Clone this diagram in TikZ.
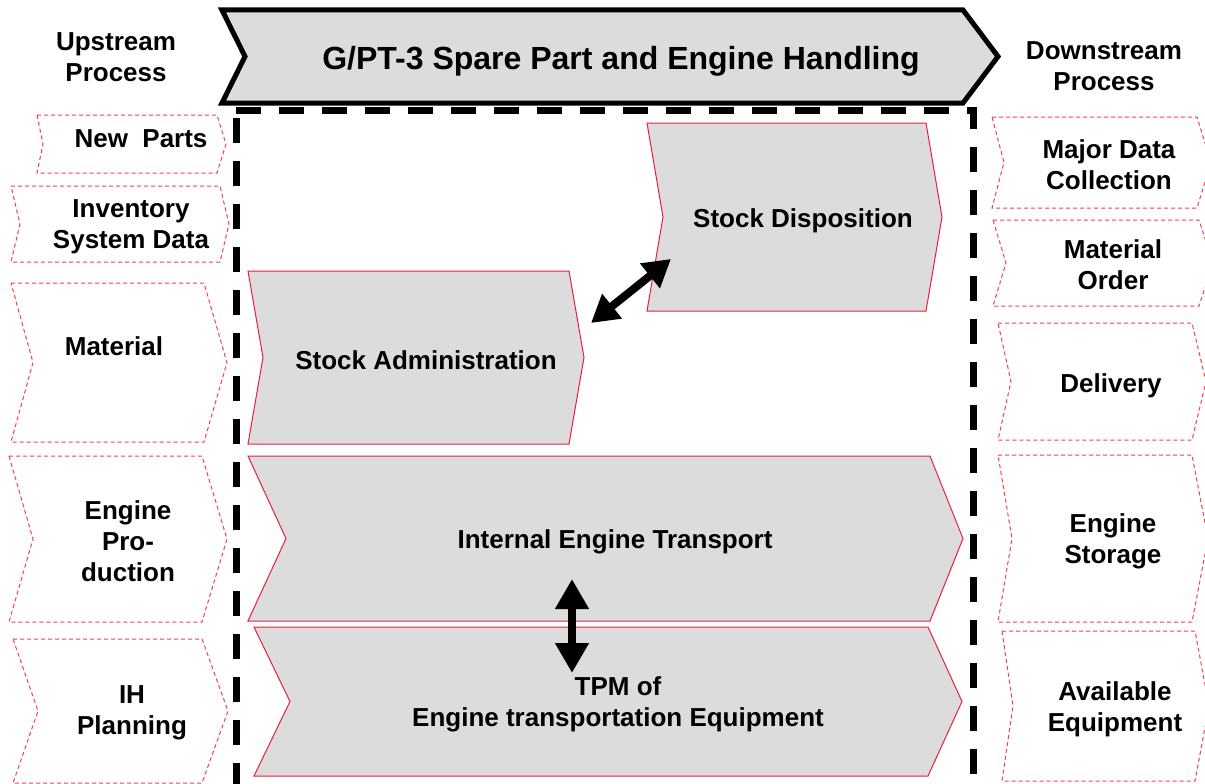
\documentclass[tikz,border=0pt]{standalone}
\usepackage{fontspec}
\setmainfont{Liberation Sans}
\usetikzlibrary{arrows.meta}
\definecolor{chevgrey}{RGB}{220,220,220}
\definecolor{dashred}{RGB}{245,60,90}
\definecolor{linered}{RGB}{235,30,60}
\tikzset{
  txt/.style={font=\fontsize{26}{31}\selectfont\bfseries, align=center, inner sep=0pt},
  headtxt/.style={font=\fontsize{32}{38}\selectfont\bfseries, inner sep=0pt},
  extbox/.style={draw=dashred, line width=1pt, dash pattern=on 4pt off 3pt, fill=white},
  procbox/.style={draw=linered, line width=1pt, fill=chevgrey},
  bannerbox/.style={draw=black, line width=5pt, fill=chevgrey, line join=miter},
  frame/.style={draw=black, line width=7pt, dash pattern=on 25pt off 18pt},
  twoway/.style={line width=8pt, {Triangle[length=30pt,width=32pt]}-{Triangle[length=30pt,width=32pt]}},
  twowaysmall/.style={line width=8pt, {Triangle[length=27pt,width=30pt]}-{Triangle[length=27pt,width=30pt]}},
}
% chevron: style, left x, notch depth, right x, tip depth, top y, bottom y
\newcommand\chevron[7]{%
  \path[#1] (#2,#6) -- (#4,#6) -- ({#4+#5},{(#6+#7)/2}) -- (#4,#7) -- (#2,#7)
    -- ({#2+#3},{(#6+#7)/2}) -- cycle;}
\begin{document}
\begin{tikzpicture}[x=1pt,y=-1pt]
\useasboundingbox (0,0) rectangle (1205,784);

% process title banner
\chevron{bannerbox}{222}{23}{963}{35}{10}{103}
\node[headtxt] (title) at (621,61) {G/PT-3 Spare Part and Engine Handling};

\node[txt] (up) at (116,57) {Upstream\\Process};
\node[txt] (down) at (1104,66) {Downstream\\Process};

% scope frame
\draw[frame] (236,110) -- (973,110) -- (973,787) -- (236,787) -- cycle;

% upstream inputs
\chevron{extbox}{37}{6}{217}{9}{115}{173}
\chevron{extbox}{11}{9}{220}{9}{186}{262}
\chevron{extbox}{11}{22}{204}{23}{283}{442}
\chevron{extbox}{9}{24}{202}{25}{456}{622}
\chevron{extbox}{13}{25}{202}{26}{639}{783}
\node[txt] (newparts) at (141,139) {New\ \ Parts};
\node[txt] (inventory) at (131,227) {Inventory\\System Data};
\node[txt] (material) at (114,346) {Material};
\node[txt] (engprod) at (128,541) {Engine\\Pro-\\duction};
\node[txt] (ihplan) at (132,713) {IH\\Planning};

% downstream outputs
\chevron{extbox}{992}{12}{1197}{14}{117}{208}
\chevron{extbox}{993}{13}{1199}{14}{220}{306}
\chevron{extbox}{998}{13}{1192}{14}{323}{440}
\chevron{extbox}{998}{14}{1192}{16}{455}{622}
\chevron{extbox}{1002}{11}{1195}{14}{631}{781}
\node[txt] (majordata) at (1109,165) {Major Data\\Collection};
\node[txt] (matorder) at (1113,265) {Material\\Order};
\node[txt] (delivery) at (1111,386) {Delivery};
\node[txt] (engstore) at (1113,541) {Engine\\Storage};
\node[txt] (avail) at (1115,709) {Available\\Equipment};

% sub-processes
\chevron{procbox}{647}{16}{926}{16}{123}{311}
\chevron{procbox}{248}{15}{569}{15}{271}{444}
\chevron{procbox}{248}{38}{930}{33}{456}{621}
\chevron{procbox}{254}{36}{928}{34}{627}{776}
\node[txt] (stockdisp) at (803,221) {Stock Disposition};
\node[txt] (stockadm) at (426,360) {Stock Administration};
\node[txt] (transport) at (615,542) {Internal Engine Transport};
\node[txt] (tpm) at (618,704) {TPM of\\Engine transportation Equipment};

% interactions between sub-processes
\coordinate (adm-end) at (591,323);
\coordinate (disp-end) at (671,259);
\draw[twowaysmall] (adm-end) -- (disp-end);
\coordinate (trans-end) at (572,579);
\coordinate (tpm-end) at (572,673);
\draw[twoway] (trans-end) -- (tpm-end);
\end{tikzpicture}
\end{document}
